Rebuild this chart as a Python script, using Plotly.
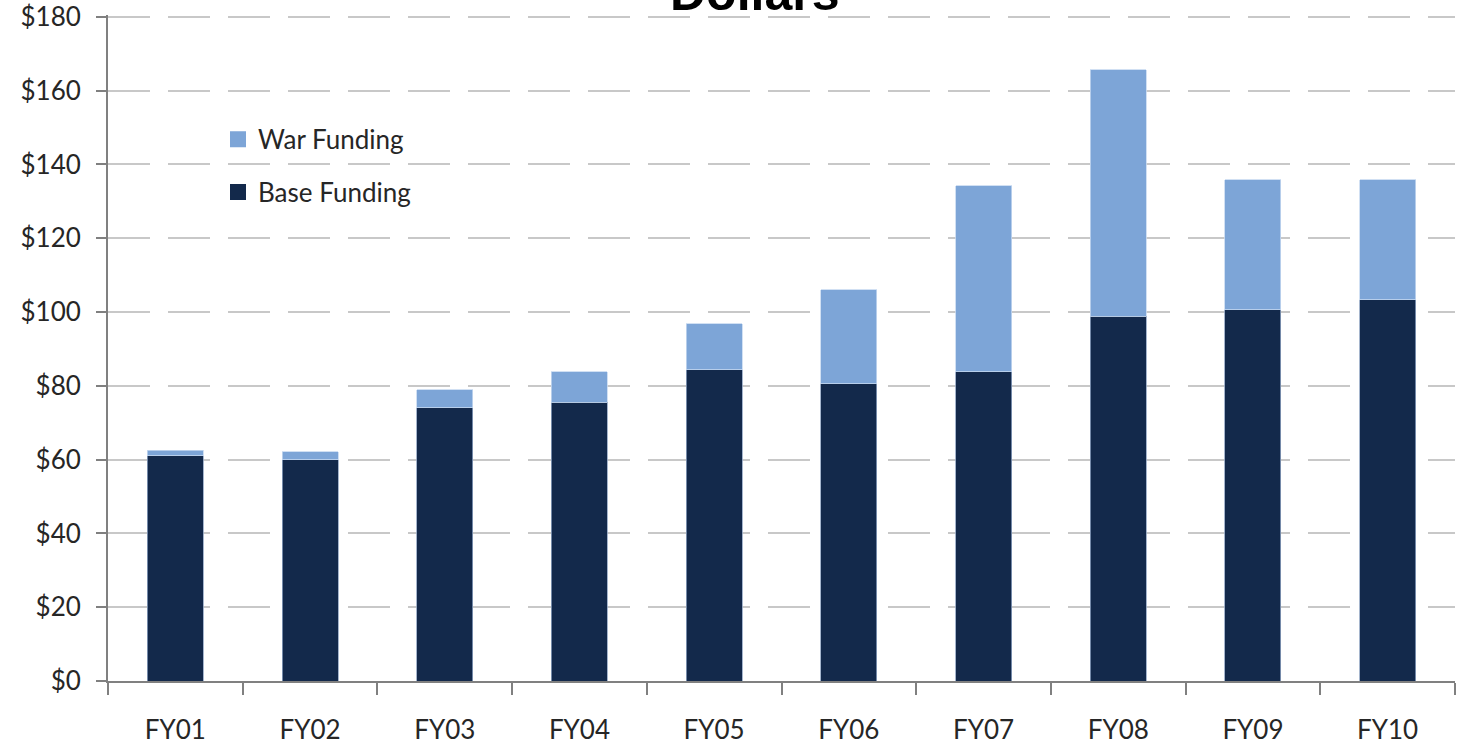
import plotly.graph_objects as go

categories = ["FY01", "FY02", "FY03", "FY04", "FY05", "FY06", "FY07", "FY08", "FY09", "FY10"]
base_funding = [61.0, 59.9, 74.0, 75.6, 84.3, 80.5, 83.8, 98.9, 100.6, 103.3]
war_funding = [1.6, 2.2, 4.9, 8.2, 12.5, 25.5, 50.4, 66.7, 35.2, 32.5]
y_ticks = [0, 20, 40, 60, 80, 100, 120, 140, 160, 180]
y_tick_labels = ["$" + str(v) for v in y_ticks]

BASE_COLOR = "#13294B"
WAR_COLOR = "#7DA5D7"

W, H = 1458, 744
Y_MAX = 180.5  # slightly above the top tick so its dashed gridline is drawn
px_per_unit = 664 / 180
extra = (Y_MAX - 180) * px_per_unit
ml, mr, mb = 108, 3, 63
mt = 17 - extra
pw, ph = W - ml - mr, H - mt - mb

fig = go.Figure()
fig.add_trace(go.Bar(
    x=categories, y=base_funding, name="Base Funding",
    marker=dict(color=BASE_COLOR, line=dict(color="#8FA3C0", width=0.8)),
    showlegend=False,
))
fig.add_trace(go.Bar(
    x=categories, y=war_funding, name="War Funding",
    marker=dict(color=WAR_COLOR, line=dict(color="#C5D8F0", width=0.8)),
    showlegend=False,
))
# legend-only entries with larger square swatches
fig.add_trace(go.Scatter(
    x=[None], y=[None], mode="markers", name="War Funding",
    marker=dict(symbol="square", size=18, color=WAR_COLOR),
    legendgroup="war", legendrank=1,
))
fig.add_trace(go.Scatter(
    x=[None], y=[None], mode="markers", name="Base Funding",
    marker=dict(symbol="square", size=18, color=BASE_COLOR),
    legendgroup="base", legendrank=2,
))

axis_font = dict(family="Lato, Open Sans, sans-serif", size=26, color="#262626")

fig.update_layout(
    width=W, height=H,
    margin=dict(l=ml, r=mr, t=mt, b=mb, pad=0, autoexpand=False),
    paper_bgcolor="white", plot_bgcolor="white",
    barmode="stack", bargap=0.584,
    showlegend=True,
    legend=dict(
        x=110 / pw, y=1 - (99 + extra) / ph,
        xanchor="left", yanchor="top",
        traceorder="grouped", tracegroupgap=16,
        font=dict(family="Lato, Open Sans, sans-serif", size=26, color="#262626"),
        bgcolor="rgba(0,0,0,0)",
    ),
    xaxis=dict(
        type="category", tickson="boundaries", automargin=False,
        ticks="outside", ticklen=12, tickcolor="#808080", tickwidth=2,
        showline=True, linecolor="#808080", linewidth=2,
        showgrid=False, tickfont=axis_font, ticklabelstandoff=25,
    ),
    yaxis=dict(
        range=[0, Y_MAX], tickvals=y_ticks, ticktext=y_tick_labels, automargin=False,
        ticks="outside", ticklen=10, tickcolor="#808080", tickwidth=2,
        showline=True, linecolor="#808080", linewidth=2,
        showgrid=True, gridcolor="#C8C8C8", gridwidth=2, griddash="42px,18px",
        zeroline=False, tickfont=axis_font, ticklabelstandoff=10,
        ticklabeloverflow="allow",
    ),
    annotations=[dict(
        text="<b>Dollars</b>", xref="paper", yref="paper",
        x=(755 - ml) / pw, y=1 + (-9.6 + extra) / ph,
        xanchor="center", yanchor="bottom",
        showarrow=False,
        font=dict(family="Liberation Sans, Arial, sans-serif", size=50, color="black"),
    )],
)

fig.write_html(
    "out.html",
    config={"displayModeBar": False},
    post_script="document.body.style.margin='0';",
)
